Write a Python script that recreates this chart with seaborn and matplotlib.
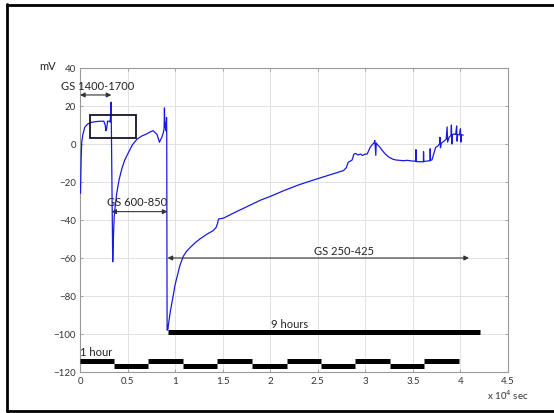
import matplotlib
matplotlib.use("Agg")
import matplotlib.pyplot as plt
from matplotlib.patches import Rectangle
from matplotlib.lines import Line2D
import seaborn as sns
import pandas as pd

# membrane potential trace (time in 10^4 s, potential in mV)
time_1e4s = [0.005, 0.008, 0.012, 0.018, 0.03, 0.05, 0.08, 0.12, 0.17, 0.22, 0.25,
             0.265, 0.272, 0.28, 0.29, 0.31, 0.318, 0.326, 0.33, 0.338, 0.344, 0.352,
             0.36, 0.372, 0.386, 0.41, 0.44, 0.47, 0.51, 0.55, 0.60, 0.65, 0.70, 0.74,
             0.77, 0.79, 0.81, 0.825, 0.835, 0.845, 0.86, 0.877, 0.884, 0.888, 0.892,
             0.90, 0.905, 0.91, 0.912, 0.914, 0.915, 0.916, 0.925, 0.93, 0.95, 0.98,
             1.0, 1.02, 1.05, 1.087, 1.12, 1.16, 1.21, 1.26, 1.33, 1.40, 1.43, 1.445,
             1.456, 1.51, 1.6, 1.7, 1.79, 1.9, 2.0, 2.14, 2.3, 2.49, 2.63, 2.77, 2.8,
             2.82, 2.86, 2.88, 2.90, 2.92, 2.95, 2.97, 3.0, 3.02, 3.05, 3.07, 3.09,
             3.1, 3.11, 3.115, 3.13, 3.15, 3.18, 3.21, 3.25, 3.29, 3.32, 3.36, 3.40,
             3.44, 3.47, 3.50, 3.53, 3.532, 3.535, 3.58, 3.61, 3.612, 3.615, 3.65,
             3.68, 3.682, 3.685, 3.70, 3.72, 3.74, 3.76, 3.78, 3.785, 3.79, 3.80,
             3.82, 3.85, 3.86, 3.865, 3.88, 3.90, 3.905, 3.91, 3.915, 3.93, 3.95,
             3.96, 3.965, 3.97, 3.99, 4.0, 4.005, 4.01, 4.03]
potential_mv = [-26, -18, -8, 1, 5, 8.8, 10.5, 11.4, 11.8, 12.0, 12.0,
                10, 7, 8, 12, 12, 11.5, 22, 8, -35, -62, -48,
                -38, -32, -26, -19, -13, -8.5, -4.4, -0.5, 2.6, 4.2, 5.3, 6.4,
                7.0, 6.0, 5.0, 2.5, 0.9, 2.0, 3.5, 6.1, 8, 19, 9,
                11, 7, 14, 5, -75, -80, -98, -97.5, -95, -88, -79.8,
                -74, -70, -64, -59, -56.5, -54.4, -52, -50, -47.6, -45.6, -44, -42,
                -39.5, -39, -36.7, -34.3, -32.1, -29.5, -27.6, -24.6, -21.5, -18.4, -16.2, -14, -12.5,
                -9.6, -8.5, -5.3, -5.0, -5.8, -5.3, -6.0, -5.3, -5.3, -1.8, -0.5, 0.5,
                1.8, -6, 0.5, -0.5, -1.5, -3.5, -5.3, -7, -8, -8.4, -8.6, -8.8,
                -8.6, -8.8, -9.0, -9.0, -3, -9.3, -9.3, -9.4, -4, -9.2, -9,
                -8.8, -2.5, -8.6, -8.4, -5, -1.7, -1.2, 0, 3.5, -2, 0.5,
                1.2, 2.5, 9, 1, 3.5, 4.5, 10, 0, 4.8, 5.3, 5.0,
                9.5, 1.5, 5.0, 4.8, 8, 1, 4.8, 4.7]

# one-hour light/dark schedule (segment edges and levels)
hour_edges = [0.0, 0.36, 0.72, 1.08, 1.445, 1.81, 2.175, 2.53, 2.895, 3.26, 3.62, 3.99]
hour_levels = [-114.2, -116.8, -114.2, -116.8, -114.2, -116.8, -114.2, -116.8, -114.2, -116.8, -114.2]

# nine-hour bar
nine_hour_span = [0.92, 4.21]
nine_hour_level = -99

x_ticks = [0, 0.5, 1, 1.5, 2, 2.5, 3, 3.5, 4, 4.5]
x_tick_labels = ["0", "0.5", "1", "1.5", "2", "2.5", "3", "3.5", "4", "4.5"]
y_ticks = [-120, -100, -80, -60, -40, -20, 0, 20, 40]

sns.set_style("white")
plt.rcParams["font.family"] = ["Lato", "DejaVu Sans"]

W, H = 554, 414
fig = plt.figure(figsize=(W / 100, H / 100), dpi=100)
ax = fig.add_axes([80 / W, 1 - 373 / H, 428 / W, 304 / H])

df = pd.DataFrame({"t": time_1e4s, "mv": potential_mv})
sns.lineplot(data=df, x="t", y="mv", sort=False, estimator=None, ax=ax,
             color="#1a1adf", linewidth=0.9, zorder=3)

ax.set_xlim(0, 4.5)
ax.set_ylim(-120, 40)
ax.set_xticks(x_ticks)
ax.set_xticklabels(x_tick_labels)
ax.set_yticks(y_ticks)
ax.set_xlabel("")
ax.set_ylabel("")
ax.grid(True, color="#e2e2e2", linewidth=0.7, linestyle="-")
ax.set_axisbelow(True)
for s in ax.spines.values():
    s.set_color("#9a9a9a")
    s.set_linewidth(0.8)
    s.set_visible(True)
ax.tick_params(axis="both", direction="in", length=2.5, width=0.6, color="#9a9a9a",
               labelsize=7, labelcolor="#333333", pad=3,
               top=True, right=True, bottom=True, left=True)

# thick schedule bars
for i, lvl in enumerate(hour_levels):
    ax.plot([hour_edges[i], hour_edges[i + 1]], [lvl, lvl], color="black",
            linewidth=3.6, solid_capstyle="butt", zorder=4, clip_on=False)
ax.plot(nine_hour_span, [nine_hour_level, nine_hour_level], color="black",
        linewidth=3.6, solid_capstyle="butt", zorder=4)

ax.text(2.2, -94.7, "9 hours", ha="center", va="center", fontsize=8, color="#222222")
ax.text(0.0, -109.3, "1 hour", ha="left", va="center", fontsize=8, color="#222222")

# recording-condition spans
arrow_kw = dict(arrowstyle="<|-|>", color="#333333", lw=0.8, mutation_scale=7,
                shrinkA=0, shrinkB=0)
ax.annotate("", xy=(0.0, 25.8), xytext=(0.33, 25.8), arrowprops=arrow_kw,
            annotation_clip=False)
ax.text(0.184, 31, "GS 1400-1700", ha="center", va="center", fontsize=8,
        color="#222222", clip_on=False)
ax.annotate("", xy=(0.33, -35.6), xytext=(0.92, -35.6), arrowprops=arrow_kw)
ax.text(0.6, -30.4, "GS 600-850", ha="center", va="center", fontsize=8, color="#222222")
ax.annotate("", xy=(0.92, -60), xytext=(4.09, -60), arrowprops=arrow_kw)
ax.text(2.78, -55.8, "GS 250-425", ha="center", va="center", fontsize=8, color="#222222")

ax.add_patch(Rectangle((0.105, 3.2), 0.485, 12.1, fill=False,
                       edgecolor="#15152a", linewidth=1.3, zorder=5))

fig.text(47.5 / W, 1 - 67 / H, "mV", ha="center", va="center", fontsize=8, color="#222222")
fig.text(508 / W, 1 - 395 / H, r"x 10$^4$ sec", ha="center", va="center", fontsize=7,
         color="#333333")

# outer frame
for xs, ys in [([7 / W, 7 / W], [1 - 5 / H, 1 - 412 / H]),
               ([7 / W, 1.0], [1 - 6 / H, 1 - 6 / H]),
               ([7 / W, 1.0], [1 - 411.5 / H, 1 - 411.5 / H])]:
    fig.add_artist(Line2D(xs, ys, color="black", linewidth=2.0))

fig.savefig("out.png", dpi=100, facecolor="white")
